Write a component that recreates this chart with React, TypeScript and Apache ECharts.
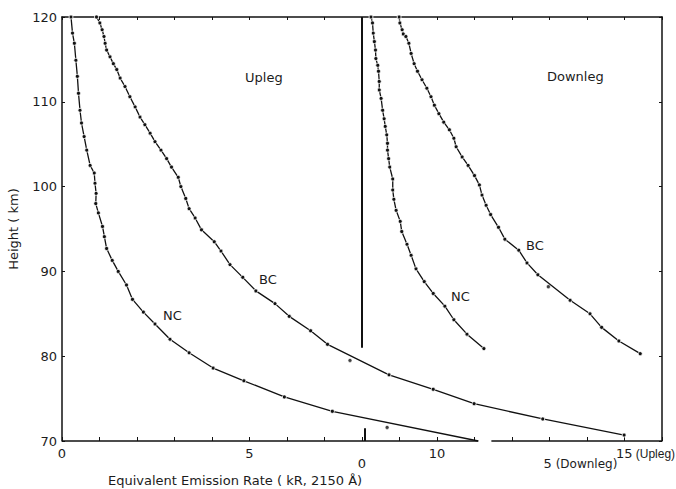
import React, { useEffect, useRef } from "react";
import * as echarts from "echarts";

// [emission rate (kR), height (km)]
const uplegNC: [number, number][] = [
  [0.24, 120], [0.28, 118.1], [0.33, 116.9], [0.37, 114.9], [0.41, 113], [0.44, 111],
  [0.48, 109], [0.52, 107.5], [0.59, 105.9], [0.66, 104.3], [0.75, 102.5], [0.86, 101.6],
  [0.88, 100.4], [0.91, 99.2], [0.9, 98.0], [0.97, 96.9], [1.08, 95.3], [1.13, 94.1],
  [1.19, 92.7], [1.34, 91.3], [1.5, 90.0], [1.72, 88.4], [1.88, 86.7], [2.17, 85.2],
  [2.48, 83.8], [2.88, 82.0], [3.39, 80.4], [4.03, 78.6], [4.85, 77.1], [5.93, 75.2],
  [7.21, 73.5],
];
const uplegNCEnd: [number, number] = [11.1, 70];
const uplegBC: [number, number][] = [
  [0.92, 120], [1.01, 119.3], [1.07, 118.5], [1.12, 117.7], [1.15, 116.9], [1.19, 116.1],
  [1.28, 115.3], [1.37, 114.5], [1.46, 113.8], [1.55, 112.8], [1.68, 111.8], [1.81, 110.6],
  [1.95, 109.4], [2.08, 108.2], [2.21, 107.3], [2.35, 106.3], [2.48, 105.3], [2.64, 104.3],
  [2.79, 103.3], [2.92, 102.3], [3.1, 101.1], [3.17, 100.0], [3.3, 98.6], [3.39, 97.4],
  [3.55, 96.3], [3.72, 94.9], [4.06, 93.5], [4.24, 92.4], [4.48, 90.8], [4.82, 89.3],
  [5.17, 87.7], [5.68, 86.2], [6.06, 84.7], [6.63, 83.0], [7.08, 81.4], [8.72, 77.8],
  [9.9, 76.1], [10.99, 74.4], [12.82, 72.6], [14.99, 70.7],
];
const uplegStray: [number, number][] = [[7.68, 79.5], [8.67, 71.6]];

const downlegNC: [number, number][] = [
  [0.24, 120], [0.28, 119.3], [0.3, 118.1], [0.33, 117.1], [0.36, 116.1], [0.37, 115.1],
  [0.42, 114.3], [0.44, 113.6], [0.46, 112.4], [0.46, 111.4], [0.51, 110.4], [0.55, 109.0],
  [0.59, 108.0], [0.62, 107.1], [0.66, 106.1], [0.68, 105.1], [0.68, 104.3], [0.71, 103.3],
  [0.74, 102.3], [0.82, 100.9], [0.82, 99.6], [0.85, 98.5], [0.91, 97.2], [1.02, 95.9],
  [1.06, 94.7], [1.2, 93.2], [1.31, 91.9], [1.44, 90.3], [1.66, 88.8], [1.9, 87.4],
  [2.21, 85.9], [2.45, 84.3], [2.8, 82.6], [3.25, 80.9],
];
const downlegBC: [number, number][] = [
  [0.99, 120], [1.01, 119.3], [1.07, 118.5], [1.1, 118.0], [1.17, 117.7], [1.25, 116.9],
  [1.31, 115.7], [1.39, 114.5], [1.48, 113.6], [1.6, 112.6], [1.73, 111.6], [1.84, 110.6],
  [1.93, 109.6], [2.05, 108.6], [2.18, 107.6], [2.33, 106.7], [2.45, 105.7], [2.51, 104.7],
  [2.67, 103.5], [2.83, 102.5], [3.0, 101.3], [3.13, 100.2], [3.2, 99.0], [3.31, 97.8],
  [3.43, 96.7], [3.64, 95.2], [3.81, 93.8], [4.18, 92.5], [4.4, 91.0], [4.69, 89.6],
  [5.55, 86.6], [6.08, 85.0], [6.39, 83.4], [6.85, 81.8], [7.42, 80.3],
];
const downlegStray: [number, number][] = [[4.97, 88.2]];

const uplegTicks = [0, 5, 10, 15];
const downlegTicks = [0, 5];
const downlegAxisTop = 81;

const FONT = "DejaVu Sans";
const NARROW = "Liberation Sans";
const INK = "#111";
const TXT = "#1c1c1c";

export default function App() {
  const ref = useRef<HTMLDivElement>(null);
  useEffect(() => {
    if (!ref.current) return;
    const chart = echarts.init(ref.current, null, { renderer: "svg" });
    const dot = { color: INK, borderColor: "#fff", borderWidth: 0.8 };
    const lineSeries = (name: string, data: any[], xi: number, extra: any = {}) => ({
      name,
      type: "line",
      xAxisIndex: xi,
      yAxisIndex: 0,
      data,
      symbol: "circle",
      symbolSize: 4,
      showSymbol: true,
      itemStyle: dot,
      lineStyle: { color: INK, width: 1.3 },
      silent: true,
      clip: false,
      ...extra,
    });
    const ml = (segs: [number, number][][], width: number) => ({
      silent: true,
      symbol: ["none", "none"],
      label: { show: false },
      lineStyle: { color: INK, width, type: "solid" },
      data: segs.map((s) => [{ coord: s[0] }, { coord: s[1] }]),
    });
    chart.setOption({
      animation: false,
      grid: { left: 62, right: 14, top: 17, bottom: 48, containLabel: false, outerBoundsMode: "none" },
      xAxis: [
        {
          type: "value", min: 0, max: 16, interval: 1, position: "bottom",
          axisLine: { show: false, onZero: false },
          axisTick: { show: true, inside: true, length: 4, lineStyle: { color: INK } },
          splitLine: { show: false },
          axisLabel: {
            margin: 6, color: TXT, fontSize: 13, fontFamily: FONT,
            formatter: (v: number) =>
              uplegTicks.includes(v) ? (v === 15 ? "{sp| }{n|15}{u| (Upleg)}" : String(v)) : "",
            rich: {
              sp: { width: 42, fontSize: 13, fontFamily: FONT },
              n: { fontSize: 13, fontFamily: FONT, color: TXT },
              u: { fontSize: 12, fontFamily: NARROW, color: TXT },
            },
          },
        },
        {
          type: "value", min: -8, max: 8, interval: 1, position: "bottom", offset: 10,
          axisLine: { show: false, onZero: false }, axisTick: { show: false }, splitLine: { show: false },
          axisLabel: {
            margin: 6, color: TXT, fontSize: 13, fontFamily: FONT,
            formatter: (v: number) =>
              downlegTicks.includes(v) ? (v === 5 ? "{sp| }5{d| (Downleg)}" : String(v)) : "",
            rich: { sp: { width: 62, fontSize: 13 }, d: { fontSize: 12, fontFamily: FONT, color: TXT } },
          },
        },
        {
          type: "value", min: 0, max: 16, interval: 1, position: "top",
          axisLine: { show: true, onZero: false, lineStyle: { color: INK, width: 1.5 } },
          axisTick: { show: true, inside: true, length: 3, lineStyle: { color: INK } },
          axisLabel: { show: false }, splitLine: { show: false },
        },
      ],
      yAxis: [
        {
          type: "value", min: 70, max: 120, interval: 10, position: "left",
          axisLine: { show: true, onZero: false, lineStyle: { color: INK, width: 1.5 } },
          axisTick: { show: true, inside: true, length: 3, lineStyle: { color: INK } },
          splitLine: { show: false },
          axisLabel: { margin: 5, color: TXT, fontSize: 13, fontFamily: FONT },
          name: "Height ( km)", nameLocation: "middle", nameGap: 42, nameRotate: 90,
          nameTextStyle: { color: TXT, fontSize: 13, fontFamily: FONT },
        },
        {
          type: "value", min: 70, max: 120, interval: 10, position: "right",
          axisLine: { show: true, onZero: false, lineStyle: { color: INK, width: 1.5 } },
          axisTick: { show: true, inside: true, length: 3, lineStyle: { color: INK } },
          axisLabel: { show: false }, splitLine: { show: false },
        },
      ],
      series: [
        lineSeries("Upleg NC", [...uplegNC, { value: uplegNCEnd, symbol: "none" }], 0, {
          markLine: ml([[[0, 70], [uplegNCEnd[0], 70]], [[11.45, 70], [16, 70]]], 1.5),
        }),
        lineSeries("Upleg BC", uplegBC, 0),
        lineSeries("Downleg NC", downlegNC, 1, {
          markLine: ml([[[0, 120], [0, downlegAxisTop]], [[0.08, 70], [0.08, 71.5]]], 2),
        }),
        lineSeries("Downleg BC", downlegBC, 1),
        {
          type: "scatter", xAxisIndex: 0, yAxisIndex: 0, data: uplegStray,
          symbol: "circle", symbolSize: 4, itemStyle: dot, silent: true,
        },
        {
          type: "scatter", xAxisIndex: 1, yAxisIndex: 0, data: downlegStray,
          symbol: "circle", symbolSize: 4, itemStyle: dot, silent: true,
        },
      ],
      graphic: [
        { type: "text", left: 245, top: 71, style: { text: "Upleg", fill: TXT, font: `13px ${FONT}` } },
        { type: "text", left: 547, top: 70, style: { text: "Downleg", fill: TXT, font: `13px ${FONT}` } },
        { type: "text", left: 163, top: 309, style: { text: "NC", fill: TXT, font: `13px ${FONT}` } },
        { type: "text", left: 259, top: 273, style: { text: "BC", fill: TXT, font: `13px ${FONT}` } },
        { type: "text", left: 451, top: 290, style: { text: "NC", fill: TXT, font: `13px ${FONT}` } },
        { type: "text", left: 526, top: 239, style: { text: "BC", fill: TXT, font: `13px ${FONT}` } },
        {
          type: "text", left: 108, top: 474,
          style: { text: "Equivalent Emission Rate ( kR, 2150 Å)", fill: TXT, font: `13px ${FONT}` },
        },
      ],
    });
    return () => chart.dispose();
  }, []);
  return <div ref={ref} style={{ width: 676, height: 489, position: "absolute", left: 0, top: 0 }} />;
}
